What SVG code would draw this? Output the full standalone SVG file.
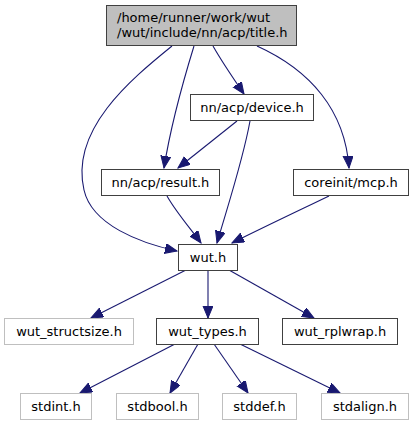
<svg xmlns="http://www.w3.org/2000/svg" width="415" height="425" viewBox="0 0 415 425">
<style>
.n rect{fill:#ffffff;stroke:#404040;stroke-width:1}
.g rect{fill:#ffffff;stroke:#bfbfbf;stroke-width:1}
.t rect{fill:#bfbfbf;stroke:#404040;stroke-width:1}
text{font-family:"DejaVu Sans",sans-serif;font-size:13px;fill:#000;text-anchor:middle}
.t text{text-anchor:start}
.e path{fill:none;stroke:#191970;stroke-width:1.1;marker-end:url(#a)}
</style>
<defs>
<marker id="a" markerUnits="userSpaceOnUse" markerWidth="14" markerHeight="12" refX="12" refY="5" orient="auto">
<path d="M0,0 L12,5 L0,10 Z" fill="#191970" stroke="#191970"/>
</marker>
</defs>
<rect width="415" height="425" fill="#ffffff"/>
<g class="e">
<path d="M172,46 C130,80 70,130 84,190 C92,225 140,243 177,251"/>
<path d="M194,46 C182,85 170,130 164,168"/>
<path d="M213,46 C222,62 233,78 244,94"/>
<path d="M257,46 C310,70 345,110 349,168"/>
<path d="M237,121 L178,168"/>
<path d="M250,121 C243,160 228,205 217,243"/>
<path d="M167,196 C176,212 190,228 201,243"/>
<path d="M329,196 C300,210 262,228 232,243"/>
<path d="M186,270 L91,318"/>
<path d="M208,270 L208,318"/>
<path d="M229,270 L314,318"/>
<path d="M175,344 L80,393"/>
<path d="M198,344 L170,393"/>
<path d="M214,344 L248,393"/>
<path d="M240,344 L340,393"/>
</g>
<g id="title" class="t"><rect x="106.5" y="5.5" width="190" height="40"/><text x="117" y="22">/home/runner/work/wut</text><text x="117" y="37">/wut/include/nn/acp/title.h</text></g>
<g id="device" class="n"><rect x="190.5" y="94.5" width="123" height="26"/><text x="252" y="112">nn/acp/device.h</text></g>
<g id="result" class="n"><rect x="101.5" y="169.5" width="118" height="26"/><text x="160.5" y="187">nn/acp/result.h</text></g>
<g id="mcp" class="n"><rect x="293.5" y="169.5" width="115" height="26"/><text x="351" y="187">coreinit/mcp.h</text></g>
<g id="wut" class="n"><rect x="178.5" y="244.5" width="59" height="26"/><text x="208" y="262">wut.h</text></g>
<g id="structsize" class="g"><rect x="4.5" y="318.5" width="129" height="26"/><text x="69" y="336">wut_structsize.h</text></g>
<g id="types" class="n"><rect x="156.5" y="318.5" width="102" height="26"/><text x="207.5" y="336">wut_types.h</text></g>
<g id="rplwrap" class="n"><rect x="282.5" y="318.5" width="115" height="26"/><text x="340" y="336">wut_rplwrap.h</text></g>
<g id="stdint" class="g"><rect x="20.5" y="393.5" width="71" height="26"/><text x="56" y="411">stdint.h</text></g>
<g id="stdbool" class="g"><rect x="116.5" y="393.5" width="82" height="26"/><text x="157.5" y="411">stdbool.h</text></g>
<g id="stddef" class="g"><rect x="222.5" y="393.5" width="74" height="26"/><text x="259.5" y="411">stddef.h</text></g>
<g id="stdalign" class="g"><rect x="321.5" y="393.5" width="87" height="26"/><text x="365" y="411">stdalign.h</text></g>
</svg>
